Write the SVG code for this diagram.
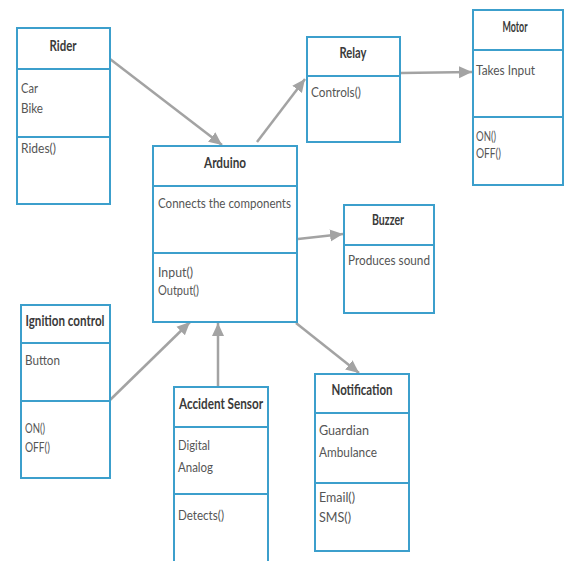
<svg xmlns="http://www.w3.org/2000/svg" width="565" height="561" viewBox="0 0 565 561">
<style>
.box{fill:#fff;stroke:#3c9fcc;stroke-width:2}
.div{stroke:#3c9fcc;stroke-width:2}
.t{font-family:Lato,"Liberation Sans",sans-serif;font-size:15px;font-weight:bold;fill:#3a3a3a;text-anchor:middle}
.b{font-family:Lato,"Liberation Sans",sans-serif;font-size:14px;fill:#555}
.c{stroke:#a3a3a3;stroke-width:2.5;fill:none;marker-end:url(#ah)}
</style>
<defs>
<marker id="ah" markerUnits="userSpaceOnUse" markerWidth="14" markerHeight="14" refX="13" refY="7" orient="auto">
<path d="M0,1 L13,7 L0,13 Z" fill="#a3a3a3"/>
</marker>
</defs>
<rect width="565" height="561" fill="#fff"/>
<g id="connectors">
<line class="c" x1="110" y1="59" x2="222" y2="145"/>
<line class="c" x1="257" y1="142" x2="305" y2="79"/>
<line class="c" x1="401" y1="73" x2="472" y2="72"/>
<line class="c" x1="298" y1="239" x2="343" y2="234"/>
<line class="c" x1="296" y1="323" x2="359" y2="373"/>
<line class="c" x1="110" y1="400" x2="190" y2="322"/>
<line class="c" x1="218" y1="387" x2="218" y2="323"/>
</g>
<g id="rider">
<rect class="box" x="17" y="28" width="93" height="176"/>
<line class="div" x1="17" y1="69" x2="110" y2="69"/>
<line class="div" x1="17" y1="137" x2="110" y2="137"/>
<text class="t" x="63" y="51" textLength="27" lengthAdjust="spacingAndGlyphs">Rider</text>
<text class="b" x="21" y="93" textLength="17" lengthAdjust="spacingAndGlyphs">Car</text>
<text class="b" x="21" y="113" textLength="22" lengthAdjust="spacingAndGlyphs">Bike</text>
<text class="b" x="21" y="153" textLength="35" lengthAdjust="spacingAndGlyphs">Rides()</text>
</g>
<g id="relay">
<rect class="box" x="307" y="37" width="93" height="105"/>
<line class="div" x1="307" y1="76" x2="400" y2="76"/>
<text class="t" x="353" y="58" textLength="27" lengthAdjust="spacingAndGlyphs">Relay</text>
<text class="b" x="311" y="97" textLength="50" lengthAdjust="spacingAndGlyphs">Controls()</text>
</g>
<g id="motor">
<rect class="box" x="473" y="10" width="90" height="175"/>
<line class="div" x1="473" y1="50" x2="563" y2="50"/>
<line class="div" x1="473" y1="117" x2="563" y2="117"/>
<text class="t" x="515" y="32" textLength="25" lengthAdjust="spacingAndGlyphs">Motor</text>
<text class="b" x="476" y="75" textLength="59" lengthAdjust="spacingAndGlyphs">Takes Input</text>
<text class="b" x="476" y="141" textLength="20" lengthAdjust="spacingAndGlyphs">ON()</text>
<text class="b" x="476" y="158" textLength="25" lengthAdjust="spacingAndGlyphs">OFF()</text>
</g>
<g id="arduino">
<rect class="box" x="153" y="146" width="144" height="176"/>
<line class="div" x1="153" y1="186" x2="297" y2="186"/>
<line class="div" x1="153" y1="253" x2="297" y2="253"/>
<text class="t" x="225" y="168" textLength="42" lengthAdjust="spacingAndGlyphs">Arduino</text>
<text class="b" x="158" y="208" textLength="133" lengthAdjust="spacingAndGlyphs">Connects the components</text>
<text class="b" x="158" y="277" textLength="35" lengthAdjust="spacingAndGlyphs">Input()</text>
<text class="b" x="158" y="295" textLength="41" lengthAdjust="spacingAndGlyphs">Output()</text>
</g>
<g id="buzzer">
<rect class="box" x="344" y="205" width="90" height="108"/>
<line class="div" x1="344" y1="245" x2="434" y2="245"/>
<text class="t" x="388" y="225" textLength="32" lengthAdjust="spacingAndGlyphs">Buzzer</text>
<text class="b" x="348" y="265" textLength="82" lengthAdjust="spacingAndGlyphs">Produces sound</text>
</g>
<g id="ignition">
<rect class="box" x="21" y="305" width="89" height="173"/>
<line class="div" x1="21" y1="343" x2="110" y2="343"/>
<line class="div" x1="21" y1="401" x2="110" y2="401"/>
<text class="t" x="65" y="326" textLength="79" lengthAdjust="spacingAndGlyphs">Ignition control</text>
<text class="b" x="25" y="365" textLength="35" lengthAdjust="spacingAndGlyphs">Button</text>
<text class="b" x="25" y="433" textLength="20" lengthAdjust="spacingAndGlyphs">ON()</text>
<text class="b" x="25" y="452" textLength="25" lengthAdjust="spacingAndGlyphs">OFF()</text>
</g>
<g id="accident-sensor">
<rect class="box" x="174" y="387" width="94" height="180"/>
<line class="div" x1="174" y1="427" x2="268" y2="427"/>
<line class="div" x1="174" y1="494" x2="268" y2="494"/>
<text class="t" x="221" y="409" textLength="84" lengthAdjust="spacingAndGlyphs">Accident Sensor</text>
<text class="b" x="178" y="450" textLength="32" lengthAdjust="spacingAndGlyphs">Digital</text>
<text class="b" x="178" y="472" textLength="35" lengthAdjust="spacingAndGlyphs">Analog</text>
<text class="b" x="178" y="520" textLength="46" lengthAdjust="spacingAndGlyphs">Detects()</text>
</g>
<g id="notification">
<rect class="box" x="315" y="374" width="94" height="177"/>
<line class="div" x1="315" y1="413" x2="409" y2="413"/>
<line class="div" x1="315" y1="483" x2="409" y2="483"/>
<text class="t" x="362" y="395" textLength="61" lengthAdjust="spacingAndGlyphs">Notification</text>
<text class="b" x="319" y="435" textLength="50" lengthAdjust="spacingAndGlyphs">Guardian</text>
<text class="b" x="319" y="457" textLength="58" lengthAdjust="spacingAndGlyphs">Ambulance</text>
<text class="b" x="319" y="502" textLength="36" lengthAdjust="spacingAndGlyphs">Email()</text>
<text class="b" x="319" y="522" textLength="32" lengthAdjust="spacingAndGlyphs">SMS()</text>
</g>
</svg>
